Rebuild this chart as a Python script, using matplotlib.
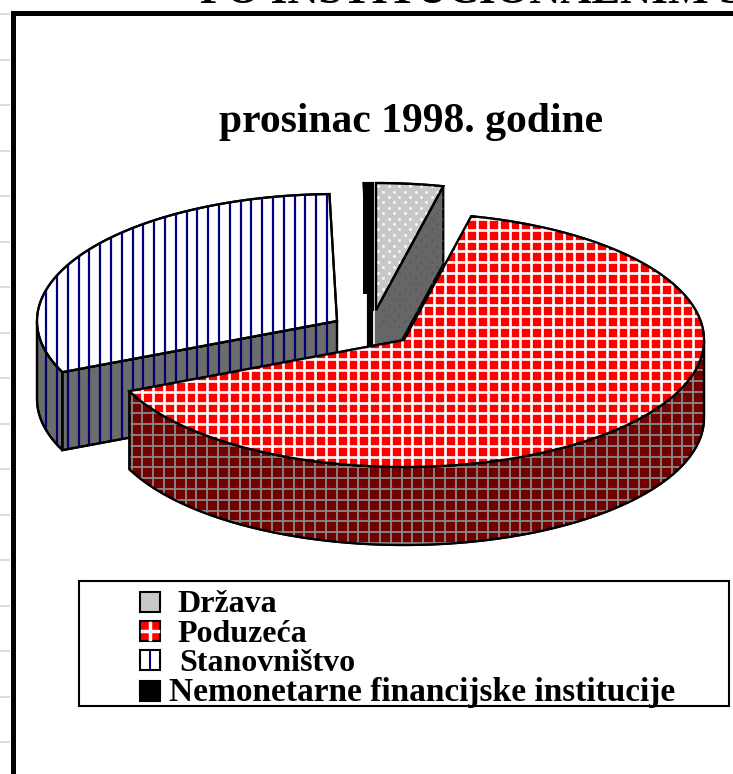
import numpy as np
import matplotlib
matplotlib.use("Agg")
import matplotlib.pyplot as plt
from matplotlib.patches import Polygon, Rectangle

plt.rcParams["font.family"] = ["Liberation Serif", "DejaVu Serif"]

categories = ["Država", "Poduzeća", "Stanovništvo", "Nemonetarne financijske institucije"]
shares = [3.6, 64.8, 31.2, 0.4]
title = "prosinac 1998. godine"
cut_title = "PO INSTITUCIONALNIM SEKTORIMA"

# pie geometry in pixels, every slice is pulled out by hand in the original
rx, ry, depth = 300, 127, 78
centers = {"Država": (376, 310), "Poduzeća": (404, 340),
           "Stanovništvo": (337, 321), "Nemonetarne financijske institucije": (372, 311)}
start_angle = 90


def arc(c, t1, t2, n=120):
    t = np.radians(np.linspace(t1, t2, n))
    return np.column_stack([c[0] + rx * np.cos(t), c[1] - ry * np.sin(t)])


def down(pts):
    return pts + np.array([0, depth])


def add_poly(pts, face, edge="black", lw=1.6, z=1):
    p = Polygon(pts, closed=True, facecolor=face, edgecolor=edge, linewidth=lw, zorder=z)
    ax.add_patch(p)
    return p


def grid_lines(patch, color, lw, step=10.8, x0=0, y0=0, vertical=True, horizontal=True):
    z = patch.get_zorder() + 0.1
    if vertical:
        ln = ax.vlines(np.arange(x0, 733, step), 0, 774, color=color, linewidth=lw, zorder=z)
        ln.set_clip_path(patch)
    if horizontal:
        ln = ax.hlines(np.arange(y0, 774, step), 0, 733, color=color, linewidth=lw, zorder=z)
        ln.set_clip_path(patch)
    # outline goes back on top of the pattern
    out = Polygon(patch.get_xy(), closed=True, fill=False, edgecolor="black", linewidth=1.6, zorder=z + 0.1)
    ax.add_patch(out)


def dots(patch, color, size):
    xs, ys = np.meshgrid(np.arange(340, 460, 10.8), np.arange(170, 330, 5.4))
    xs = xs + (np.round((ys - 170) / 5.4) % 2) * 5.4
    d = ax.scatter(xs.ravel(), ys.ravel(), s=size, color=color, linewidths=0, zorder=patch.get_zorder() + 0.1)
    d.set_clip_path(patch)


fig = plt.figure(figsize=(7.33, 7.74), dpi=100)
ax = fig.add_axes([0, 0, 1, 1])
ax.set_xlim(0, 733)
ax.set_ylim(774, 0)
ax.axis("off")

# angles of the slices from the shares, clockwise from the top
ang = start_angle - np.cumsum([0] + shares) / sum(shares) * 360
span = dict(zip(categories, zip(ang[:-1], ang[1:])))

# leftover gridlines of the page behind the chart
ax.hlines(np.arange(14, 774, 45.5), 0, 10, color="#d4d4d4", linewidth=1.2)

# Stanovnistvo
name = categories[2]
c = centers[name]
t1, t2 = span[name]
rim = arc(c, t1, t2)
low = rim[rim[:, 1] >= c[1]]
side = add_poly(np.vstack([low, down(low)[::-1]]), "#6c6c6c", z=2)
grid_lines(side, "#000070", 1.6, x0=3, vertical=True, horizontal=False)
face = add_poly(np.array([c, rim[0], down(rim[0:1])[0], down(np.array([c]))[0]]), "#6c6c6c", z=2.5)
grid_lines(face, "#000070", 1.6, x0=3, vertical=True, horizontal=False)
top = add_poly(np.vstack([[c], rim]), "white", z=3)
grid_lines(top, "#000080", 1.6, x0=3, vertical=True, horizontal=False)

# Nemonetarne
name = categories[3]
c = centers[name]
t1, t2 = span[name]
rim = arc(c, t1, t2, 10)
add_poly(np.array([(c[0], 290), (c[0], c[1] + 36), (c[0] - 4, c[1] + 36), (c[0] - 4, 290)]), "black", z=4)
add_poly(np.vstack([[c], rim]), "black", lw=3, z=4)
ax.add_patch(Rectangle((c[0] - 9, 184), 8, 110, facecolor="black", edgecolor="none", zorder=4))

# Drzava
name = categories[0]
c = centers[name]
t1, t2 = span[name]
rim = arc(c, t1, t2, 30)
edge = rim[-1]
side = add_poly(np.array([c, edge, edge + [0, depth], np.array(c) + [0, depth]]), "#666666", z=5)
dots(side, "#5a5a5a", 3)
ax.vlines(c[0] + 1, c[1], c[1] + 40, color="#666666", linewidth=3, zorder=5.2)
top = add_poly(np.vstack([[c], rim]), "#c8c8c8", z=6)
dots(top, "#f4f4f4", 5)
out = Polygon(top.get_xy(), closed=True, fill=False, edgecolor="black", linewidth=1.6, zorder=6.5)
ax.add_patch(out)

# Poduzeca
name = categories[1]
c = centers[name]
t1, t2 = span[name]
rim = arc(c, t1, t2, 300)
low = rim[rim[:, 1] >= c[1]]
side = add_poly(np.vstack([low, down(low)[::-1]]), "#720000", z=7)
grid_lines(side, "#8a8a8a", 1.3, x0=2, y0=3)
top = add_poly(np.vstack([[c], rim]), "#ff0000", z=8)
grid_lines(top, "white", 1.9, x0=2, y0=3)

# frame, runs out of the picture on the right and at the bottom
ax.plot([13, 13, 733], [774, 13, 13], color="black", linewidth=3.6, solid_joinstyle="miter", zorder=10)

ax.text(200, -7, cut_title, fontsize=31, fontweight="bold", ha="left", va="center", zorder=11)
ax.text(411, 122, title, fontsize=30, fontweight="bold", ha="center", va="center", zorder=11)

# legend
ax.add_patch(Rectangle((79, 581), 650, 125, facecolor="white", edgecolor="black", linewidth=1.5, zorder=11))
sw_y = [592, 621, 650, 681]
text_x = [177, 177, 179, 169]
text_y = [612, 642, 671, 701]
text_size = [23, 23, 23, 24]
sw_col = ["#c8c8c8", "#ff0000", "white", "black"]
for i in range(len(categories)):
    ax.add_patch(Rectangle((140, sw_y[i]), 20, 20, facecolor=sw_col[i], edgecolor="black", linewidth=1.5, zorder=12))
    ax.text(text_x[i], text_y[i], categories[i], fontsize=text_size[i], fontweight="bold", ha="left", va="baseline", zorder=12)
ax.plot([150, 150], [623, 639], color="white", linewidth=2.5, zorder=13)
ax.plot([142, 158], [631, 631], color="white", linewidth=2.5, zorder=13)
ax.plot([150, 150], [651, 669], color="#000080", linewidth=1.5, zorder=13)

plt.savefig("out.png", dpi=100)
